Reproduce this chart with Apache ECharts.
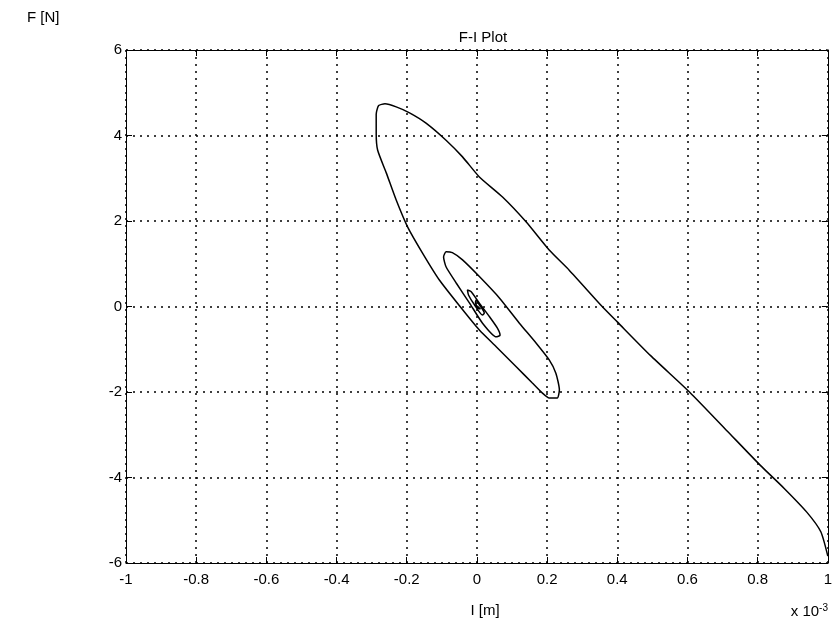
<!DOCTYPE html>
<html>
<head>
<meta charset="utf-8">
<script src="https://cdn.jsdelivr.net/npm/echarts@6/dist/echarts.min.js"></script>
<style>
  html, body { margin: 0; padding: 0; background: #fff; }
  #chart { width: 835px; height: 631px; }
</style>
</head>
<body>
<div id="chart"></div>
<script>
// Displacement I (in units of 1e-3 m) and force F [N] along the damped trajectory,
// starting at the release point at the lower right and spiralling into the origin.
const dispI = [
  1.000, 0.980, 0.940, 0.875, 0.807, 0.713, 0.607, 0.495, 0.400, 0.357,
  0.263, 0.206, 0.140, 0.073, 0.007, -0.041, -0.088, -0.145, -0.192, -0.230,
  -0.262, -0.280, -0.287, -0.287, -0.283, -0.258, -0.230, -0.198, -0.155, -0.107,
  -0.048, 0.007, 0.055, 0.112, 0.158, 0.186, 0.206, 0.229, 0.235, 0.225,
  0.206, 0.168, 0.121, 0.064, 0.007, -0.041, -0.070, -0.088, -0.095, -0.088,
  -0.059, -0.021, 0.016, 0.055, 0.066, 0.058, 0.036, 0.007, -0.017, -0.027,
  -0.024, -0.007, 0.016, 0.021, 0.007, -0.002, -0.004, 0.004, 0.010, 0.001
];
const forceF = [
  -5.84, -5.27, -4.81, -4.25, -3.71, -2.91, -2.01, -1.15, -0.36, 0.00,
  0.85, 1.32, 1.98, 2.56, 3.03, 3.50, 3.89, 4.29, 4.53, 4.67,
  4.74, 4.70, 4.50, 4.05, 3.66, 3.12, 2.49, 1.87, 1.25, 0.62,
  0.00, -0.55, -0.94, -1.41, -1.79, -2.02, -2.14, -2.14, -1.95, -1.56,
  -1.25, -0.85, -0.39, 0.20, 0.70, 1.09, 1.26, 1.28, 1.16, 0.93,
  0.55, 0.08, -0.39, -0.71, -0.67, -0.50, -0.24, 0.08, 0.35, 0.39,
  0.27, 0.04, -0.20, -0.15, 0.04, 0.15, 0.10, -0.04, -0.06, 0.01
];

const xTicks = [-1, -0.8, -0.6, -0.4, -0.2, 0, 0.2, 0.4, 0.6, 0.8, 1];
const yTicks = [-6, -4, -2, 0, 2, 4, 6];

const FONT = '"Liberation Sans", Arial, Helvetica, sans-serif';
const points = dispI.map((v, i) => [v, forceF[i]]);
const fmt = v => String(+(+v).toFixed(1));

const gridStyle = { show: true, lineStyle: { color: '#000', type: [2, 5], width: 1.5 } };
const tickStyle = { show: true, inside: true, length: 6, lineStyle: { color: '#000', width: 1 } };
const lineStyle = { show: true, onZero: false, lineStyle: { color: '#000', width: 1 } };
const txt = { fontFamily: FONT, fontSize: 15, fontWeight: 'normal', color: '#000' };

const chart = echarts.init(document.getElementById('chart'), null, { renderer: 'canvas' });
chart.setOption({
  animation: false,
  backgroundColor: '#fff',
  textStyle: { fontFamily: FONT },
  title: [
    { text: 'F-I Plot', left: 478, top: 25, textAlign: 'center', textStyle: txt },
    { text: 'F [N]', left: 22, top: 5, textStyle: txt },
    { text: 'I [m]', left: 480, top: 598, textAlign: 'center', textStyle: txt },
    { text: 'x 10{s|-3}', right: 2, top: 598,
      textStyle: Object.assign({}, txt, {
        rich: { s: { fontFamily: FONT, fontSize: 10, color: '#000', verticalAlign: 'top', padding: [0, 0, 8, 0] } } }) }
  ],
  grid: { left: 126, right: 6, top: 50, bottom: 68 },
  xAxis: [
    { type: 'value', min: -1, max: 1, interval: 0.2, position: 'bottom',
      axisLine: lineStyle, axisTick: tickStyle, splitLine: gridStyle,
      axisLabel: { color: '#000', fontSize: 15, fontFamily: FONT, margin: 9, formatter: fmt,
        customValues: xTicks } },
    { type: 'value', min: -1, max: 1, interval: 0.2, position: 'top',
      axisLine: lineStyle, axisTick: tickStyle, splitLine: { show: false },
      axisLabel: { show: false } }
  ],
  yAxis: [
    { type: 'value', min: -6, max: 6, interval: 2, position: 'left',
      axisLine: lineStyle, axisTick: tickStyle, splitLine: gridStyle,
      axisLabel: { color: '#000', fontSize: 15, fontFamily: FONT, margin: 4, formatter: fmt,
        customValues: yTicks } },
    { type: 'value', min: -6, max: 6, interval: 2, position: 'right',
      axisLine: lineStyle, axisTick: tickStyle, splitLine: { show: false },
      axisLabel: { show: false } }
  ],
  series: [{
    type: 'line',
    data: points,
    showSymbol: false,
    smooth: 0.2,
    lineStyle: { color: '#000', width: 1.5 },
    z: 5
  }]
});
</script>
</body>
</html>
